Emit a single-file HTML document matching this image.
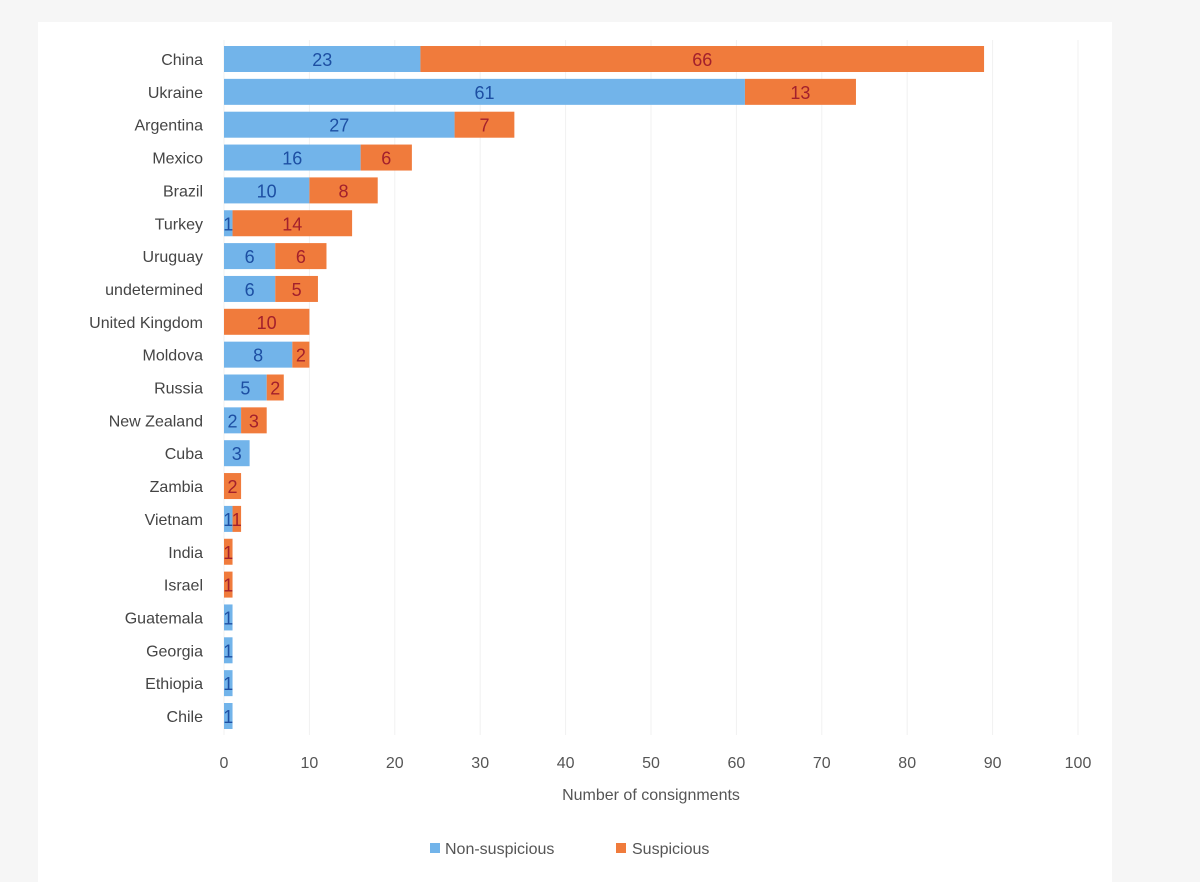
<!DOCTYPE html>
<html><head><meta charset="utf-8"><style>
body{margin:0;background:#f6f6f6;width:1200px;height:870px;overflow:hidden;font-family:"Liberation Sans",sans-serif}
#panel{position:absolute;left:38px;top:22px;width:1074px;height:860px;background:#fff}
</style></head><body>
<div id="panel"></div>
<svg id="chart" width="1200" height="870" style="position:absolute;left:0;top:0"></svg>
<script>
const categories=["China","Ukraine","Argentina","Mexico","Brazil","Turkey","Uruguay","undetermined","United Kingdom","Moldova","Russia","New Zealand","Cuba","Zambia","Vietnam","India","Israel","Guatemala","Georgia","Ethiopia","Chile"];
const nonSuspicious=[23,61,27,16,10,1,6,6,0,8,5,2,3,0,1,0,0,1,1,1,1];
const suspicious=[66,13,7,6,8,14,6,5,10,2,2,3,0,2,1,1,1,0,0,0,0];
const xTicks=[0,10,20,30,40,50,60,70,80,90,100];
const NS="http://www.w3.org/2000/svg";
const svg=document.getElementById('chart');
const x=v=>224+v*8.54;
const yc=i=>59+i*32.85;
const BH=26;
function mk(t,a,p){const e=document.createElementNS(NS,t);for(const k in a)e.setAttribute(k,a[k]);(p||svg).appendChild(e);return e;}
xTicks.forEach(t=>{
  const g=mk('line',{x1:x(t),x2:x(t),y1:40,y2:735,stroke:'#f1f1f1','stroke-width':1});
  
  
  const l=mk('text',{x:x(t),y:768,'text-anchor':'middle','font-size':16,fill:'#555'});
  l.textContent=t;
  
  
});
categories.forEach((c,i)=>{
  const l=mk('text',{x:203,y:yc(i)+6,'text-anchor':'end','font-size':16,fill:'#444'});
  l.textContent=c;
  
  
  const a=nonSuspicious[i],b=suspicious[i];
  if(a>0){
    const r=mk('rect',{x:x(0),y:yc(i)-BH/2,width:x(a)-x(0),height:BH,fill:'#72b4ea'});
    
    
    const t=mk('text',{x:(x(0)+x(a))/2,y:yc(i)+7,'text-anchor':'middle','font-size':18,fill:'#1d4fa3'});
    t.textContent=a;
    
    
  }
  if(b>0){
    const r=mk('rect',{x:x(a),y:yc(i)-BH/2,width:x(a+b)-x(a),height:BH,fill:'#f07b3c'});
    
    
    const t=mk('text',{x:(x(a)+x(a+b))/2,y:yc(i)+7,'text-anchor':'middle','font-size':18,fill:'#a3202c'});
    t.textContent=b;
    
    
  }
});
const at=mk('text',{x:x(50),y:800,'text-anchor':'middle','font-size':16,fill:'#555'});
at.textContent='Number of consignments';


const s1=mk('rect',{x:430,y:843,width:10,height:10,fill:'#72b4ea'});


const l1=mk('text',{x:445,y:854,'font-size':16,fill:'#555'});
l1.textContent='Non-suspicious';


const s2=mk('rect',{x:616,y:843,width:10,height:10,fill:'#f07b3c'});


const l2=mk('text',{x:632,y:854,'font-size':16,fill:'#555'});
l2.textContent='Suspicious';


</script>
</body></html>
